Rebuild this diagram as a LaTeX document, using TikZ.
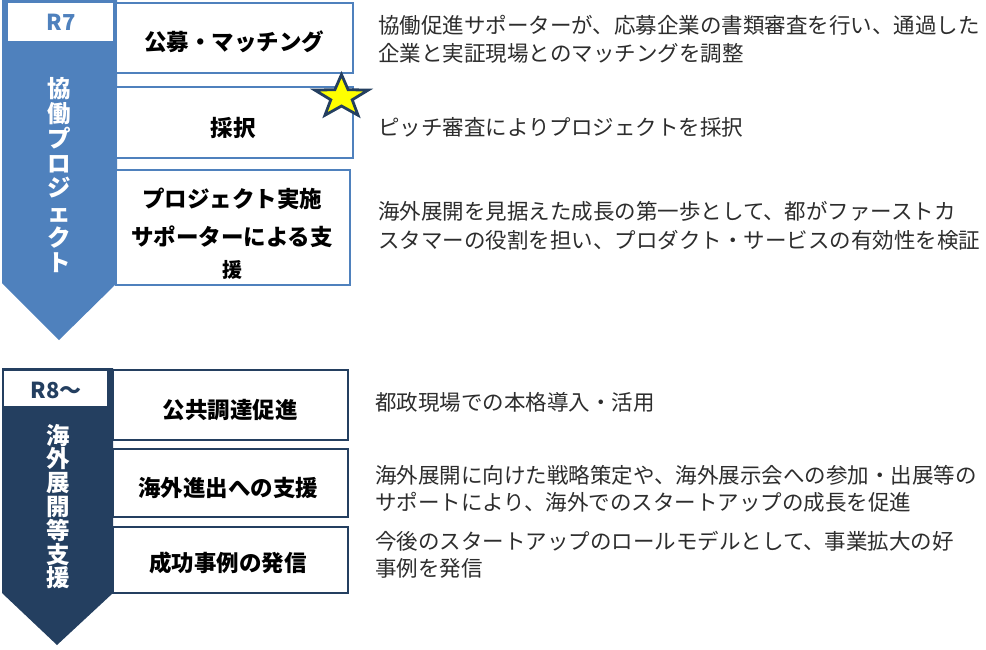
\documentclass[tikz,border=0pt]{standalone}
\usepackage{fontspec}
\newfontfamily\jp{Noto Sans CJK JP}
\usetikzlibrary{shapes.geometric}
\definecolor{kblue}{RGB}{79,129,189}
\definecolor{knavy}{RGB}{36,63,96}
\definecolor{ktext}{RGB}{45,45,45}
\definecolor{kstar}{RGB}{255,255,0}
\tikzset{
  bluebox/.style={draw=kblue, line width=2.5pt, fill=white, rectangle, inner sep=0pt},
  navybox/.style={draw=knavy, line width=2.5pt, fill=white, rectangle, inner sep=0pt},
  boxlabel/.style={font=\jp\bfseries\fontsize{22.5}{38}\selectfont, text=black, align=center, inner sep=0pt},
  smalllabel/.style={font=\jp\bfseries\fontsize{20}{20}\selectfont, text=black, inner sep=0pt},
  vtext/.style={font=\jp\bfseries\fontsize{23.5}{24.9}\selectfont, text=white, align=center, inner sep=0pt},
  desc/.style={font=\jp\fontsize{21.5}{28.5}\selectfont, text=ktext, align=left, anchor=west, inner sep=0pt},
  yearlabel/.style={font=\jp\bfseries\fontsize{22}{22}\selectfont, inner sep=0pt}
}
\begin{document}
\begin{tikzpicture}[x=1pt,y=-1pt]
\useasboundingbox (0,0) rectangle (986,649);
\fill[white] (0,0) rectangle (986,649);

% ---------- upper section (R7) ----------
\fill[kblue] (2,0) -- (117,0) -- (117,283) -- (59,340) -- (2,283) -- cycle;
\node[fill=white, minimum width=105pt, minimum height=38pt, inner sep=0pt] (r7box) at (60.5,22) {};
\node[yearlabel, text=kblue] (r7) at (61,22) {R7};
\node[vtext] (v1) at (59,175) {協\\働\\プ\\ロ\\ジ\\ェ\\ク\\ト};

\node[bluebox, minimum width=237pt, minimum height=70pt] (b1) at (234.5,38) {};
\node[bluebox, minimum width=237pt, minimum height=71pt] (b2) at (234.5,122.5) {};
\node[bluebox, minimum width=234pt, minimum height=115pt] (b3) at (233,227.5) {};

\node[boxlabel] (t1) at (234,42) {公募・マッチング};
\node[boxlabel] (t2) at (233,128) {採択};
\node[boxlabel] (t3) at (232,218) {プロジェクト実施\\サポーターによる支};
\node[smalllabel] (t3b) at (232,270) {援};

\node[star, star points=5, star point ratio=2.5, minimum size=45pt, inner sep=0pt,
      fill=kstar, draw=knavy, line width=2.8pt, transform shape, xscale=1.25] (star) at (341.5,97) {};

\node[desc] (d1) at (378,39.5) {協働促進サポーターが、応募企業の書類審査を行い、通過した\\企業と実証現場とのマッチングを調整};
\node[desc] (d2) at (378,127) {ピッチ審査によりプロジェクトを採択};
\node[desc] (d3) at (378,226) {海外展開を見据えた成長の第一歩として、都がファーストカ\\スタマーの役割を担い、プロダクト・サービスの有効性を検証};

% ---------- lower section (R8~) ----------
\fill[knavy] (2,368) -- (113,368) -- (113,593) -- (57,645) -- (2,593) -- cycle;
\node[navybox, minimum width=105pt, minimum height=37pt] (r8box) at (55.5,388.5) {};
\node[yearlabel, text=knavy] (r8) at (56,390) {R8〜};
\node[vtext, font=\jp\bfseries\fontsize{23.5}{23.8}\selectfont] (v2) at (58,506.5) {海\\外\\展\\開\\等\\支\\援};

\node[navybox, minimum width=235pt, minimum height=70pt] (b4) at (230.5,405) {};
\node[navybox, minimum width=235pt, minimum height=68pt] (b5) at (230.5,483) {};
\node[navybox, minimum width=235pt, minimum height=66pt] (b6) at (230.5,560) {};

\node[boxlabel] (t4) at (230,410) {公共調達促進};
\node[boxlabel] (t5) at (228,488) {海外進出への支援};
\node[boxlabel] (t6) at (228,563) {成功事例の発信};

\node[desc] (d4) at (375,402) {都政現場での本格導入・活用};
\node[desc, font=\jp\fontsize{21.5}{27}\selectfont] (d5) at (375,488.5) {海外展開に向けた戦略策定や、海外展示会への参加・出展等の\\サポートにより、海外でのスタートアップの成長を促進};
\node[desc, font=\jp\fontsize{21.5}{27}\selectfont] (d6) at (375,555) {今後のスタートアップのロールモデルとして、事業拡大の好\\事例を発信};
\end{tikzpicture}
\end{document}
